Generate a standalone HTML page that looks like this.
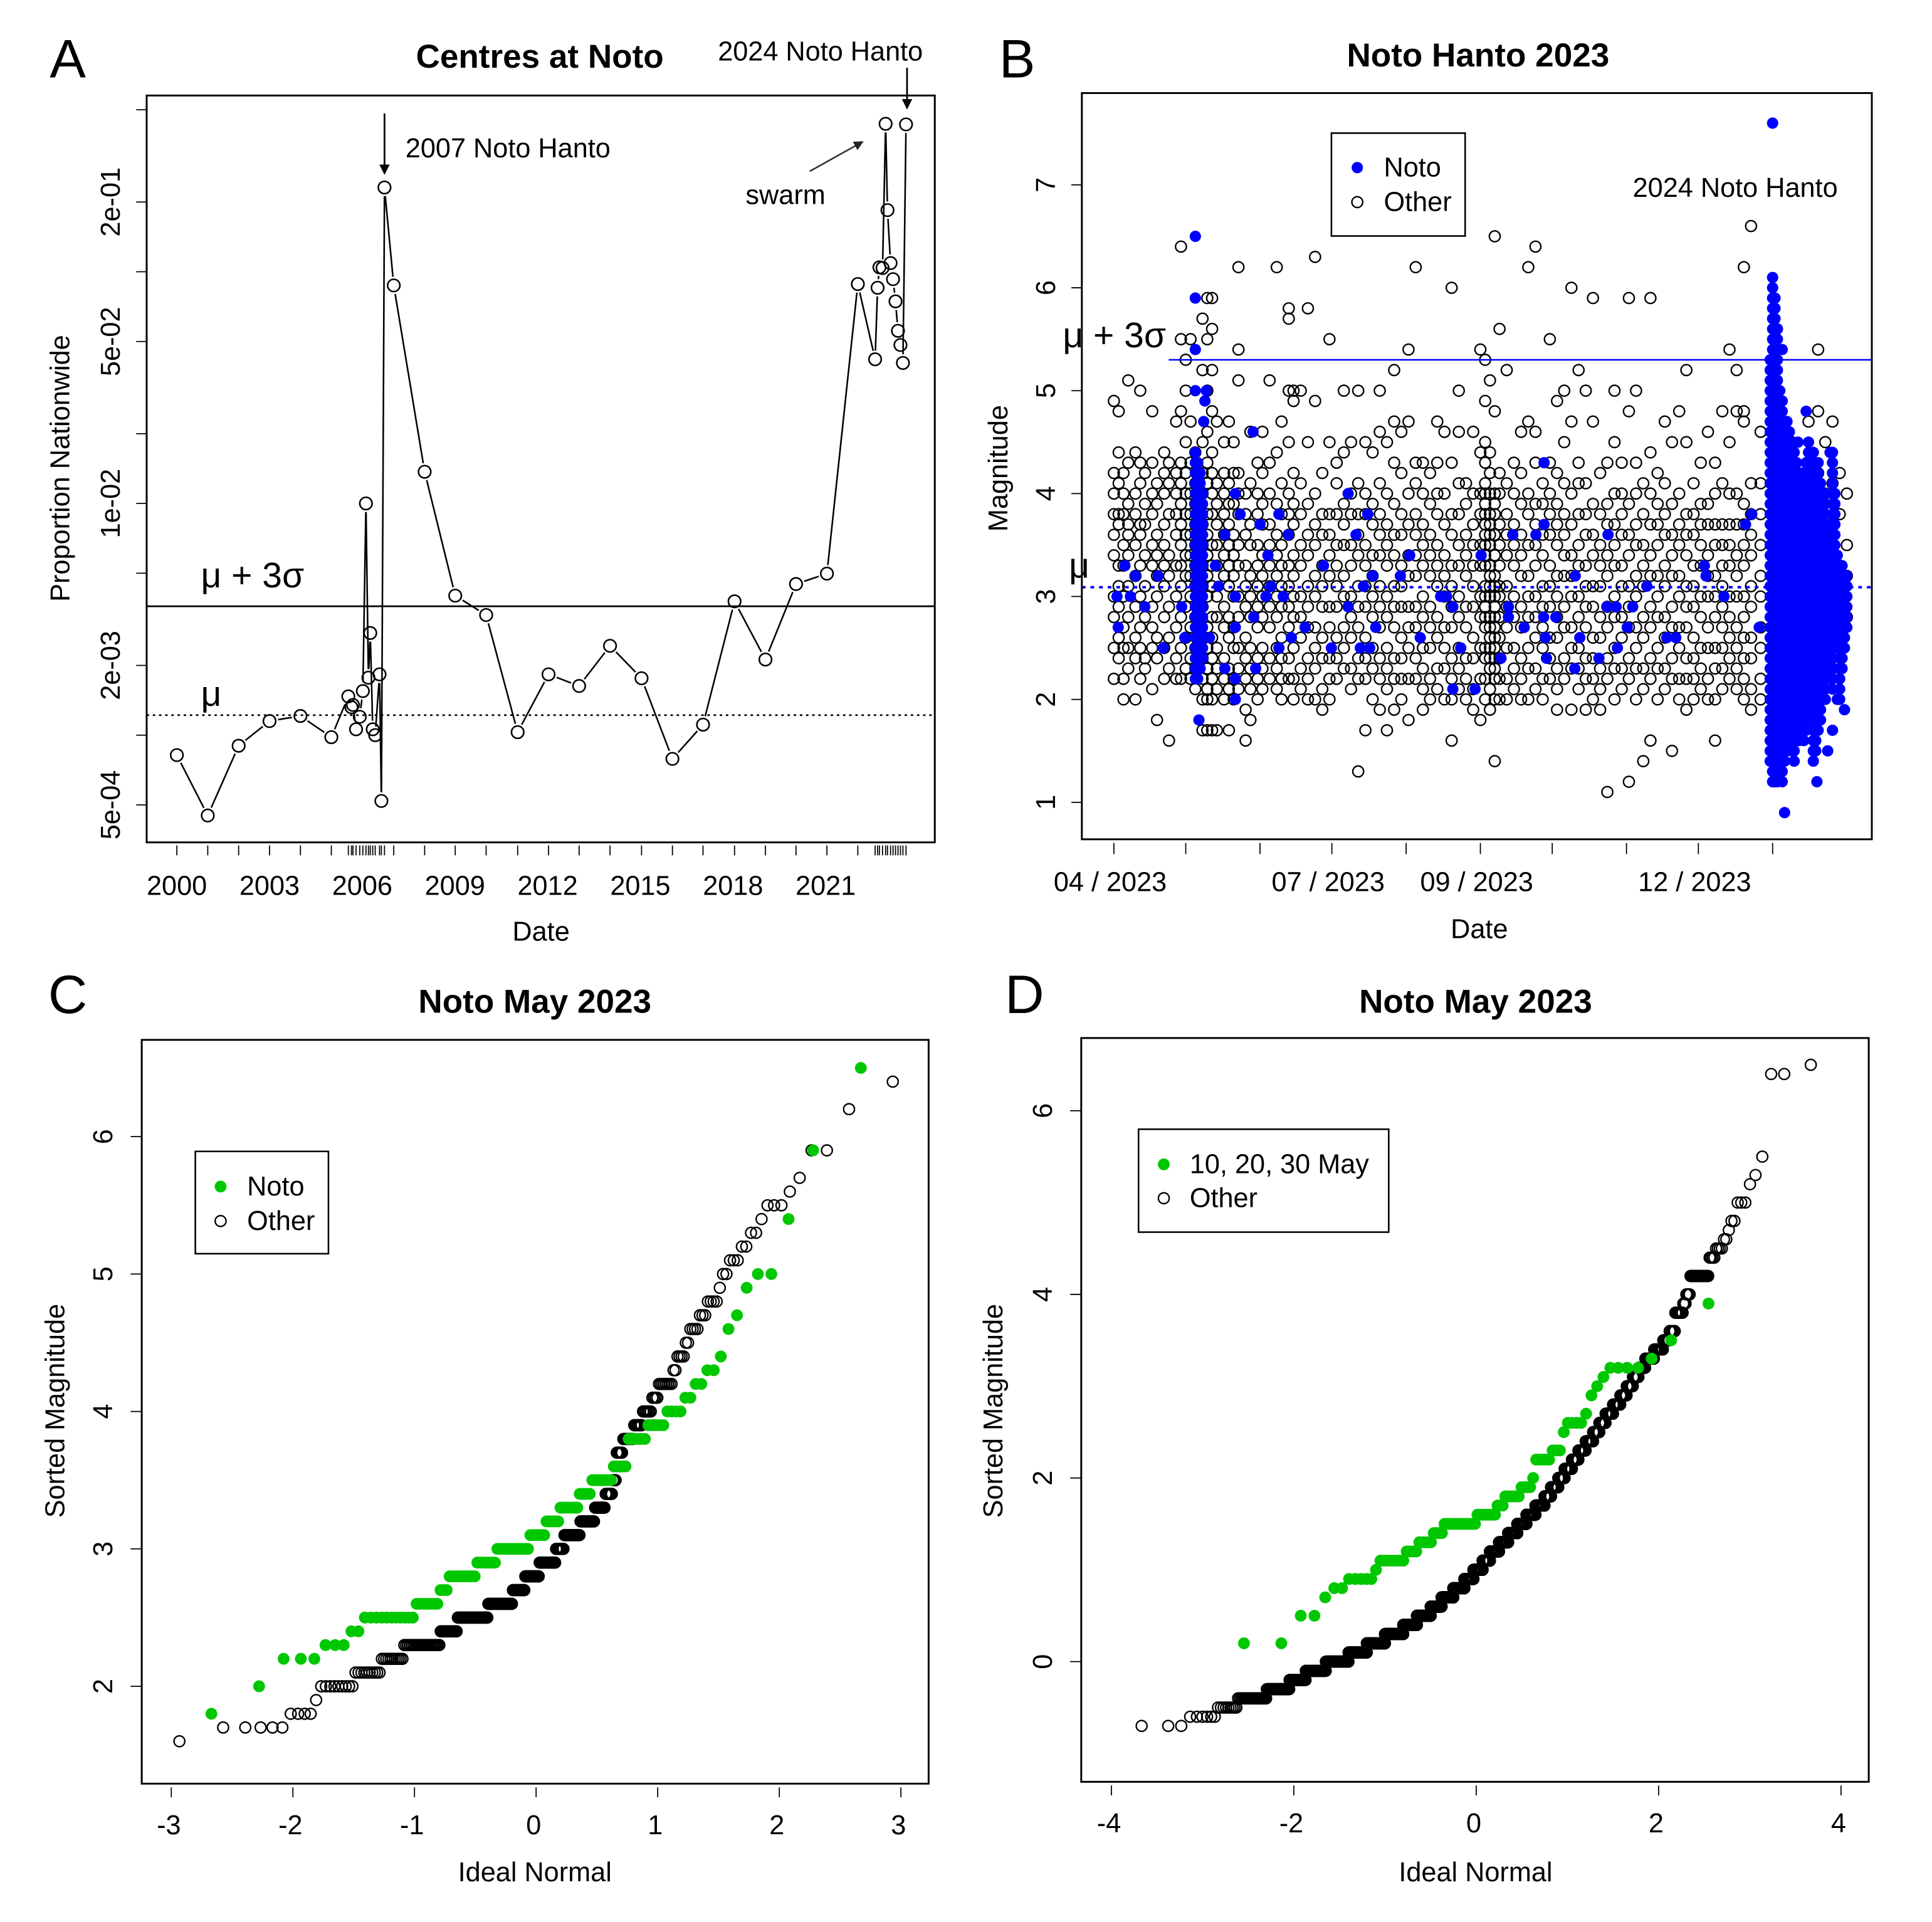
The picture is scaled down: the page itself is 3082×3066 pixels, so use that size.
<!DOCTYPE html>
<html><head><meta charset="utf-8"><title>Noto seismicity figure</title>
<style>
html,body{margin:0;padding:0;background:#fff;}
svg{display:block;font-family:"Liberation Sans",Arial,sans-serif;}
</style></head>
<body>
<svg id="fig" xmlns="http://www.w3.org/2000/svg" width="3082" height="3066" viewBox="0 0 1541 1533">
<defs>
<marker id="ah" viewBox="0 0 10 10" refX="9" refY="5" markerWidth="6" markerHeight="6" orient="auto-start-reverse"><path d="M0,0 L10,5 L0,10 z" fill="#000"/></marker>
<marker id="ahg" viewBox="0 0 10 10" refX="9" refY="5" markerWidth="6" markerHeight="6" orient="auto"><path d="M0,0 L10,5 L0,10 z" fill="#222"/></marker>
</defs>
<rect x="0" y="0" width="1541" height="1533" fill="#fff"/>
</svg>
<script>
// ---------------- Panel A data ----------------
const aDates=[2000.0,2001.0,2002.0,2003.0,2004.0,2005.0,2005.55,2005.65,2005.7,2005.8,2005.92,2006.02,2006.12,2006.2,2006.26,2006.34,2006.42,2006.56,2006.62,2006.72,2007.02,2008.02,2009.01,2010.01,2011.03,2012.03,2013.02,2014.02,2015.04,2016.04,2017.03,2018.05,2019.05,2020.04,2021.04,2022.04,2022.6,2022.68,2022.74,2022.84,2022.94,2023.0,2023.1,2023.18,2023.26,2023.34,2023.42,2023.5,2023.6];
const aProps=[8.2e-4,4.5e-4,9.0e-4,1.15e-3,1.21e-3,9.8e-4,1.47e-3,1.32e-3,1.35e-3,1.06e-3,1.2e-3,1.55e-3,1.0e-2,1.77e-3,2.76e-3,1.06e-3,1.0e-3,1.83e-3,5.2e-4,0.231,0.0873,0.0137,4.0e-3,3.3e-3,1.03e-3,1.83e-3,1.63e-3,2.43e-3,1.76e-3,7.9e-4,1.11e-3,3.78e-3,2.12e-3,4.49e-3,4.98e-3,0.0885,0.0419,0.0853,0.1045,0.1038,0.435,0.1845,0.109,0.0929,0.0745,0.0556,0.0483,0.0404,0.4325];
const aYearLabels=[2000,2003,2006,2009,2012,2015,2018,2021];
const aYTickVals=[5e-4,2e-3,1e-2,5e-2,2e-1];
const aYTickLabels=["5e-04","2e-03","1e-02","5e-02","2e-01"];
const aYMinorVals=[1e-3,5e-3,2e-2,1e-1,5e-1];
const aMuPlus3Sigma=3.6e-3;
const aMu=1.22e-3;

// ---------------- Panel B data ----------------
const bMonthTicks=[0,30,61,91,122,153,183,214,244,275];
const bMonthLabelIdx=[0,3,5,8];
const bMonthLabels=["04 / 2023","07 / 2023","09 / 2023","12 / 2023"];
const bYTicks=[1,2,3,4,5,6,7];
const bMuPlus3Sigma=5.3;
const bMu=3.09;
const bOtherDays=[0,2,4,6,9,11,13,16,18,21,23,26,28,30,32,34,37,39,41,43,46,48,50,52,55,57,60,62,65,68,70,73,75,78,81,84,87,90,93,96,99,102,105,108,111,114,117,120,123,126,129,132,135,138,141,144,147,150,153,155,157,159,161,164,167,170,173,176,179,182,185,188,191,194,197,200,203,206,209,212,215,218,221,224,227,230,233,236,239,242,245,248,251,254,257,260,263,266,270,283,290,294,297,300,303,306];
const bOtherMags=[
"22 25 28 30 34 36 38 40 42 49","24 26 29 31 33 37 38 41 44 48","20 22 25 27 30 33 35 38 40 42","23 25 28 31 34 36 37 39 43 51",
"20 24 26 29 32 35 38 40 44","22 25 27 30 33 36 37 41 43 50","23 24 28 31 34 37 39 42","21 25 27 29 33 35 38 40 43 48",
"18 24 26 30 32 34 36 39 41","22 25 28 31 33 35 37 40 42 44","16 23 26 29 32 34 38 41 43","22 24 27 30 33 36 38 40 42 47",
"22 25 28 31 33 35 37 39 41 43 48 55 64","23 26 29 32 34 36 38 40 42 45 50 53","22 24 27 30 32 34 36 38 40 43 47 55","21 23 25 28 31 33 35 37 39 41 44",
"17 20 22 24 26 29 31 33 35 37 40 42 45 52 57","17 20 21 23 25 27 30 32 34 36 38 41 43 46 50 55 59","17 20 22 24 26 28 31 33 35 38 40 42 44 48 52 56 59","17 21 23 25 28 30 33 35 37 39 41 47",
"20 22 24 27 29 32 34 36 38 40 42 45","17 21 23 26 28 31 33 35 37 39 41 47","20 22 25 27 30 32 34 36 39 42 45","21 23 25 28 30 33 35 38 40 42 51 54 62",
"16 19 22 24 26 29 31 33 36 38 40","18 21 23 25 28 30 32 35 37 41 46","20 22 24 27 29 31 33 35 38 40 43","21 23 25 28 30 32 34 37 39 42 46",
"22 24 27 29 31 33 35 37 40 43 51","21 23 25 28 30 32 34 36 39 44 62","20 22 24 26 29 31 33 35 38 41 47","22 24 27 29 31 33 36 38 40 45 50 57 58",
"20 22 25 28 30 32 34 37 39 42 49 50","21 23 26 28 30 33 35 38 41 50","20 22 24 27 29 31 34 36 39 45 58","20 23 25 27 30 32 35 37 40 49 63",
"19 21 24 26 29 31 33 36 38 42","20 22 24 27 29 32 34 36 38 45 55","22 24 26 29 31 33 35 38 41 43","23 25 27 30 32 35 37 39 44 50",
"21 23 26 28 30 33 35 38 40 45","13 22 24 27 29 31 34 36 38 41 50","17 22 24 26 29 31 33 35 38 40 45","20 23 25 28 30 32 34 37 39 44",
"19 22 24 27 29 31 34 36 38 41 46 50","17 21 23 25 28 30 33 35 37 40 45","19 22 24 27 29 31 34 36 39 43 47 52","20 22 24 26 29 31 33 36 38 42 46",
"18 22 25 27 29 32 34 37 40 47 54","22 24 27 29 32 34 36 38 41 43 62","19 21 23 25 28 30 33 35 37 40 43","20 22 25 27 29 32 34 36 39 42",
"21 23 26 28 31 33 35 38 40 43 47","20 23 25 27 30 32 34 37 40 46","16 20 22 24 27 29 31 33 36 38 43 60","21 23 25 28 30 33 35 38 41 46 50",
"20 22 24 27 29 32 34 36 39 41","19 21 24 26 29 31 33 35 37 40 46","18 22 25 28 30 33 35 38 40 44 54","20 22 24 25 27 28 29 30 31 33 34 35 36 37 38 39 40 41 43 45 49 53",
"19 21 23 24 25 26 27 28 30 31 32 33 35 36 37 38 40 42 44 51","14 20 22 23 24 25 26 27 28 29 30 31 32 34 36 38 39 40 48 65","20 22 24 26 28 30 31 33 35 37 40 42 56","20 22 25 27 29 31 34 36 38 41 52",
"21 23 25 28 30 33 35 37 40 43","20 22 24 27 29 32 34 36 39 42 46","20 23 25 28 30 32 35 38 40 47 62","21 23 26 28 30 33 35 37 39 43 46 64",
"20 22 25 27 29 31 34 36 39 41","22 24 26 29 31 33 36 38 40 43 55","19 21 23 26 28 30 32 35 37 39 42 49","22 24 27 29 32 34 36 38 41 45 50",
"19 23 25 27 30 32 34 37 40 47 60","21 23 25 28 30 33 35 38 41 43 52","19 22 24 27 29 31 33 36 38 41 50","20 22 24 26 29 31 34 36 39 47 59",
"19 21 23 26 28 31 33 35 38 42","11 22 24 27 29 32 34 37 39 43","20 23 25 28 30 33 35 37 40 45 50","21 23 26 28 31 33 36 38 40 43",
"12 22 24 27 29 31 34 36 39 48 59","20 23 25 27 30 32 35 37 40 43 50","14 21 23 26 28 31 33 35 38 41","16 22 24 27 29 32 34 37 40 44 59",
"20 23 25 28 30 32 35 37 39 42","21 23 26 28 31 33 36 38 41 47","15 22 24 27 29 32 34 36 39 45","20 22 25 27 30 32 35 37 40 48",
"19 22 24 27 29 31 34 36 38 45 52","20 22 24 26 29 31 33 36 38 41","21 23 25 28 30 33 35 37 39 43","20 22 25 27 30 32 34 37 39 46",
"16 20 23 25 28 30 32 35 37 40 43","21 23 25 27 29 31 33 35 37 41 48","22 24 26 28 30 33 35 37 40 45 54","21 23 25 27 30 32 34 37 40 48 52",
"20 22 24 26 28 30 33 35 37 39 47 48 62","19 21 24 26 29 31 34 36 38 41 66","20 22 25 27 30 32 35 38 41 46","30 33 37 40 45",
"24 27 30 34 38 41 47","23 26 29 33 36 39 42 48 54","24 28 31 35 40 45","23 27 30 34 37 41 47","26 29 33 38 42","28 32 35 40"];
const bNotoDays=[1.3,1.8,4.6,6.9,9,12.9,18.5,20.6,28.3,29.6,34,34,34,34,38.6,38,37.5,35.5,39.9,42.4,43.7,46.3,46.3,50.7,50.7,50.7,50.7,50.7,52.7,58.1,58.4,59.2,61,63.5,64.3,65.6,68.9,68.9,70.7,72.8,74.1,79.8,87.5,90.8,97.8,97.8,101.1,102.9,104.2,106,106.8,108,109.3,119.6,123.5,127.9,136.4,138.9,141.5,141.5,144.8,150.8,153.3,161.6,164.7,164.7,166.5,171.3,176.2,179.6,179.6,179.4,180.1,180.6,184.5,192.4,192.6,194.5,202.5,205.8,206.3,209.7,210.2,214.3,216.6,222.5,230.8,234.6,246.5,247.2,254.7,263.7,266.3,269.4,275,280,279,277,289,293.5,298,300,302,305,299,285.6];
const bNotoMags=[3.0,2.7,3.3,3.0,3.2,2.9,3.2,2.5,2.9,2.6,6.5,5.9,5.4,5.0,5.0,4.9,4.7,1.8,2.6,3.3,3.1,3.6,2.3,4.0,3.0,2.7,2.2,2.0,3.8,4.6,2.8,2.3,3.7,3.0,3.4,3.1,3.8,2.5,3.0,3.6,2.6,2.7,3.3,2.5,4.0,2.9,3.6,2.5,3.1,3.8,2.5,3.2,2.7,3.2,3.4,2.6,3.0,3.0,2.9,2.1,2.5,2.1,3.4,2.4,2.9,2.8,3.6,2.7,3.6,4.3,3.7,2.8,2.6,2.4,2.8,2.3,3.2,2.6,2.4,2.9,3.6,2.9,2.5,2.7,2.9,3.1,2.6,2.6,3.3,3.2,3.0,3.7,3.8,2.7,7.6,0.9,5.4,5.6,4.8,1.2,1.5,1.7,2.0,1.9,4.4,4.5];
// dense Noto swarm columns: day, lowest and highest magnitude present (every 0.1 step occupied)
const bSwarmDays=[34,35,36,37,274,275,276,277,278,279,280,281,282,283,284,285,286,287,288,289,290,291,292,293,294,295,296,297,298,299,300,301,302,303,304,305,306];
const bSwarmMin=[2.2,2.2,2.3,2.4,1.4,1.2,1.2,1.2,1.3,1.2,1.4,1.5,1.6,1.5,1.4,1.6,1.6,1.7,1.6,1.7,1.8,1.8,1.4,1.5,1.7,1.8,2.0,2.0,2.2,2.5,2.1,2.6,2.5,2.0,2.3,2.5,2.7];
const bSwarmMax=[4.4,4.3,4.2,4.0,5.3,6.1,5.9,5.6,5.0,4.9,4.7,4.7,4.6,4.5,4.4,4.3,4.2,4.2,4.1,4.3,4.5,4.2,4.4,4.0,4.3,4.1,3.8,4.0,3.7,3.5,4.4,4.0,3.4,3.3,3.3,3.2,3.2];

// ---------------- Panel C data (magnitude levels and counts) ----------------
const cNotoMags=[1.8,2.0,2.2,2.3,2.4,2.5,2.6,2.7,2.8,2.9,3.0,3.1,3.2,3.3,3.4,3.5,3.6,3.8,3.9,4.0,4.1,4.2,4.3,4.4,4.6,4.7,4.9,5.0,5.4,5.9,6.5];
const cNotoCounts=[1,1,3,3,2,11,7,3,10,8,14,7,6,8,5,8,5,6,5,4,2,2,2,1,1,1,1,2,1,1,1];
const cOtherMags=[1.6,1.7,1.8,1.9,2.0,2.1,2.2,2.3,2.4,2.5,2.6,2.7,2.8,2.9,3.0,3.1,3.2,3.3,3.4,3.5,3.7,3.8,3.9,4.0,4.1,4.2,4.3,4.4,4.5,4.6,4.7,4.8,4.9,5.0,5.1,5.2,5.3,5.4,5.5,5.6,5.7,5.9,6.2,6.4];
const cOtherCounts=[1,5,4,1,9,10,11,23,13,26,23,12,14,16,8,15,13,9,6,3,5,8,6,6,4,8,2,4,2,4,3,4,1,2,3,2,2,1,3,1,1,2,1,1];
const cXTicks=[-3,-2,-1,0,1,2,3];
const cYTicks=[2,3,4,5,6];

// ---------------- Panel D data ----------------
const dNotoMags=[0.2,0.5,0.7,0.8,0.9,1.0,1.1,1.2,1.3,1.4,1.5,1.6,1.7,1.8,1.9,2.0,2.2,2.3,2.5,2.6,2.7,2.9,3.0,3.1,3.2,3.3,3.5,3.9];
const dNotoCounts=[2,2,1,2,5,1,7,4,5,4,13,8,3,6,4,1,5,3,1,4,1,1,1,1,4,1,1,1];
const dOtherMags=[-0.7,-0.6,-0.5,-0.4,-0.3,-0.2,-0.1,0.0,0.1,0.2,0.3,0.4,0.5,0.6,0.7,0.8,0.9,1.0,1.1,1.2,1.3,1.4,1.5,1.6,1.7,1.8,1.9,2.0,2.1,2.2,2.3,2.4,2.5,2.6,2.7,2.8,2.9,3.0,3.1,3.2,3.3,3.4,3.5,3.6,3.8,3.9,4.0,4.2,4.4,4.5,4.6,4.7,4.8,5.0,5.2,5.3,5.5,6.4,6.5];
const dOtherCounts=[3,6,9,26,39,43,77,128,141,178,218,189,209,177,200,195,162,164,131,160,156,151,145,135,127,86,90,74,78,65,66,62,47,43,46,40,31,27,22,23,26,22,13,10,12,4,5,17,4,4,2,1,2,3,1,1,1,2,1];
const dXTicks=[-4,-2,0,2,4];
const dYTicks=[0,2,4,6];

// ---------------- helpers ----------------
const NS='http://www.w3.org/2000/svg';
const svg=document.getElementById('fig');
const FONT='"Liberation Sans", Arial, sans-serif';
const SC=0.983;
function mk(tag,attrs,parent){const e=document.createElementNS(NS,tag);for(const k in attrs)e.setAttribute(k,attrs[k]);(parent||svg).appendChild(e);return e;}
function group(ox,oy){return mk('g',{transform:'translate('+ox+' '+oy+') scale('+SC+') translate('+(-ox)+' '+(-oy)+')'});}
function text(s,x,y,size,extra,parent){const o=Object.assign({x:x,y:y,'font-size':size,'font-family':FONT,'text-anchor':'middle','dominant-baseline':'central',fill:'#000'},extra||{});const e=mk('text',o,parent);e.textContent=s;return e;}
function qnorm(p){const a=[-3.969683028665376e+01,2.209460984245205e+02,-2.759285104469687e+02,1.383577518672690e+02,-3.066479806614716e+01,2.506628277459239e+00];const b=[-5.447609879822406e+01,1.615858368580409e+02,-1.556989798598866e+02,6.680131188771972e+01,-1.328068155288572e+01];const c=[-7.784894002430293e-03,-3.223964580411365e-01,-2.400758277161838e+00,-2.549732539343734e+00,4.374664141464968e+00,2.938163982698783e+00];const d=[7.784695709041462e-03,3.224671290700398e-01,2.445134137142996e+00,3.754408661907416e+00];const pl=0.02425;let q,r;if(p<pl){q=Math.sqrt(-2*Math.log(p));return (((((c[0]*q+c[1])*q+c[2])*q+c[3])*q+c[4])*q+c[5])/((((d[0]*q+d[1])*q+d[2])*q+d[3])*q+1);}if(p>1-pl){q=Math.sqrt(-2*Math.log(1-p));return -(((((c[0]*q+c[1])*q+c[2])*q+c[3])*q+c[4])*q+c[5])/((((d[0]*q+d[1])*q+d[2])*q+d[3])*q+1);}q=p-0.5;r=q*q;return (((((a[0]*r+a[1])*r+a[2])*r+a[3])*r+a[4])*r+a[5])*q/(((((b[0]*r+b[1])*r+b[2])*r+b[3])*r+b[4])*r+1);}

// ================= PANEL A =================
(function(){
const g=group(0,0);


const L=119,R=758.5,T=77.5,B=683.5;
const xA=t=>143.5+(t-2000)*25.07;
const yA=v=>408.5-(Math.log10(v)+2)*188;
let e;
e=text('A',55,48,44,{},g);


e=text('Centres at Noto',438,46,27,{'font-weight':'bold'},g);


e=mk('line',{x1:L,x2:R,y1:yA(aMuPlus3Sigma),y2:yA(aMuPlus3Sigma),stroke:'#000','stroke-width':1.4},g);


e=mk('line',{x1:L,x2:R,y1:yA(aMu),y2:yA(aMu),stroke:'#000','stroke-width':1.3,'stroke-dasharray':'2 3'},g);


e=text('μ + 3σ',163,467,29,{'text-anchor':'start'},g);


e=text('μ',163,563,29,{'text-anchor':'start'},g);


const r=5,gap=2;
for(let i=0;i<aDates.length-1;i++){
 const x1=xA(aDates[i]),y1=yA(aProps[i]),x2=xA(aDates[i+1]),y2=yA(aProps[i+1]);
 const dx=x2-x1,dy=y2-y1,len=Math.hypot(dx,dy);
 const cut=r+gap; if(len<=2*cut+1) continue;
 const ux=dx/len,uy=dy/len;
 e=mk('line',{x1:x1+ux*cut,y1:y1+uy*cut,x2:x2-ux*cut,y2:y2-uy*cut,stroke:'#000','stroke-width':1.3},g);
 
 
}
for(let i=0;i<aDates.length;i++){
 e=mk('circle',{cx:xA(aDates[i]),cy:yA(aProps[i]),r:r,fill:'none',stroke:'#000','stroke-width':1.3},g);
 
 
}
e=mk('rect',{x:L,y:T,width:R-L,height:B-T,fill:'none',stroke:'#000','stroke-width':1.5},g);


for(const t of aDates){
 e=mk('line',{x1:xA(t),x2:xA(t),y1:686,y2:694,stroke:'#000','stroke-width':0.9},g);
 
 
}
for(const yr of aYearLabels){
 e=text(String(yr),xA(yr),719,22,{},g);
 
 
}
for(let i=0;i<aYTickVals.length;i++){
 const y=yA(aYTickVals[i]);
 e=mk('line',{x1:110.5,x2:119,y1:y,y2:y,stroke:'#000','stroke-width':0.9},g);
 
 
 e=text(aYTickLabels[i],90,y,22,{transform:'rotate(-90 90 '+y+')'},g);
 
 
}
for(const v of aYMinorVals){
 const y=yA(v);
 e=mk('line',{x1:110.5,x2:119,y1:y,y2:y,stroke:'#000','stroke-width':0.9},g);
 
 
}
e=text('Date',439,756,22,{},g);


e=text('Proportion Nationwide',49,380,22,{transform:'rotate(-90 49 380)'},g);


e=mk('line',{x1:312,y1:92,x2:312,y2:141,stroke:'#000','stroke-width':1.4,'marker-end':'url(#ah)'},g);


e=text('2007 Noto Hanto',329,120.5,22,{'text-anchor':'start'},g);


e=mk('line',{x1:736,y1:55,x2:736,y2:88,stroke:'#000','stroke-width':1.4,'marker-end':'url(#ah)'},g);


e=text('2024 Noto Hanto',582.5,42,22,{'text-anchor':'start'},g);


e=mk('line',{x1:657,y1:139,x2:700,y2:115,stroke:'#333','stroke-width':1.3,'marker-end':'url(#ahg)'},g);


e=text('swarm',605,158.5,22,{'text-anchor':'start'},g);


})();

// ================= PANEL B =================
(function(){
const g=group(770.5,0);


const L=864.5,R=1505.5,T=75.5,B=681;
const xB=d=>890.5+d*1.9436;
const yB=m=>651-(m-1)*83.5;
let e;
e=text('B',812,48,44,{},g);


e=text('Noto Hanto 2023',1186,45,27,{'font-weight':'bold'},g);


for(let i=0;i<bOtherDays.length;i++){
 const mags=bOtherMags[i].split(' ').map(s=>parseInt(s,10)/10);
 for(const m of mags){
  e=mk('circle',{cx:xB(bOtherDays[i]),cy:yB(m),r:4.4,fill:'none',stroke:'#000','stroke-width':1.2},g);
  
  
 }
}
for(let i=0;i<bSwarmDays.length;i++){
 for(let k=Math.round(bSwarmMin[i]*10);k<=Math.round(bSwarmMax[i]*10);k++){
  e=mk('circle',{cx:xB(bSwarmDays[i]),cy:yB(k/10),r:4.6,fill:'#0000ff'},g);
  
  
 }
}
for(let i=0;i<bNotoDays.length;i++){
 e=mk('circle',{cx:xB(bNotoDays[i]),cy:yB(bNotoMags[i]),r:4.6,fill:'#0000ff'},g);
 
 
}
e=mk('line',{x1:935,x2:R,y1:yB(bMuPlus3Sigma),y2:yB(bMuPlus3Sigma),stroke:'#0000ff','stroke-width':1.3},g);


e=mk('line',{x1:L,x2:R,y1:yB(bMu),y2:yB(bMu),stroke:'#0000ff','stroke-width':2,'stroke-dasharray':'3 4'},g);


e=text('μ + 3σ',849,272,29,{'text-anchor':'start'},g);


e=text('μ',854,459,29,{'text-anchor':'start'},g);


e=mk('rect',{x:1067,y:108,width:108.5,height:83.5,fill:'#fff',stroke:'#000','stroke-width':1.3},g);


e=mk('circle',{cx:1088,cy:136,r:4.6,fill:'#0000ff'},g);


e=text('Noto',1109.5,136,22,{'text-anchor':'start'},g);


e=mk('circle',{cx:1088,cy:164,r:4.4,fill:'none',stroke:'#000','stroke-width':1.2},g);


e=text('Other',1109.5,164,22,{'text-anchor':'start'},g);


e=text('2024 Noto Hanto',1311.5,152.5,22,{'text-anchor':'start'},g);


e=mk('rect',{x:L,y:T,width:R-L,height:B-T,fill:'none',stroke:'#000','stroke-width':1.5},g);


for(const d of bMonthTicks){
 e=mk('line',{x1:xB(d),x2:xB(d),y1:684,y2:693,stroke:'#000','stroke-width':0.9},g);
 
 
}
for(let i=0;i<bMonthLabels.length;i++){
 e=text(bMonthLabels[i],xB(bMonthTicks[bMonthLabelIdx[i]])-3,716,22,{},g);
 
 
}
for(const m of bYTicks){
 const y=yB(m);
 e=mk('line',{x1:856,x2:864.5,y1:y,y2:y,stroke:'#000','stroke-width':0.9},g);
 
 
 e=text(String(m),835.5,y,22,{transform:'rotate(-90 835.5 '+y+')'},g);
 
 
}
e=text('Date',1187,754,22,{},g);


e=text('Magnitude',797,380,22,{transform:'rotate(-90 797 380)'},g);


})();

// ================= QQ PANELS =================
function expand(mags,counts){const out=[];for(let i=0;i<mags.length;i++)for(let k=0;k<counts[i];k++)out.push(mags[i]);return out;}
function qqPanel(cfg){
 const g=group(cfg.ox,cfg.oy);
 
 
 let e;
 e=text(cfg.letter,cfg.letterX,794,44,{},g);
 
 
 e=text('Noto May 2023',cfg.titleX,799.5,27,{'font-weight':'bold'},g);
 
 
 const other=expand(cfg.otherMags,cfg.otherCounts);
 const noto=expand(cfg.notoMags,cfg.notoCounts);
 const n1=other.length,n2=noto.length;
 for(let i=0;i<n1;i++){
  const q=qnorm((i+0.5)/n1);
  e=mk('circle',{cx:cfg.x(q),cy:cfg.y(other[i]),r:4.4,fill:'none',stroke:'#000','stroke-width':1.2},g);
  
  
 }
 for(let i=0;i<n2;i++){
  const q=qnorm((i+0.5)/n2);
  e=mk('circle',{cx:cfg.x(q),cy:cfg.y(noto[i]),r:4.8,fill:'#00c800'},g);
  
  
 }
 e=mk('rect',{x:cfg.L,y:cfg.T,width:cfg.R-cfg.L,height:cfg.B-cfg.T,fill:'none',stroke:'#000','stroke-width':1.5},g);
 
 
 const lg=cfg.legend;
 e=mk('rect',{x:lg.x,y:lg.y,width:lg.w,height:lg.h,fill:'#fff',stroke:'#000','stroke-width':1.3},g);
 
 
 e=mk('circle',{cx:lg.sx,cy:lg.y1,r:4.8,fill:'#00c800'},g);
 
 
 e=text(lg.label1,lg.tx,lg.y1,22,{'text-anchor':'start'},g);
 
 
 e=mk('circle',{cx:lg.sx,cy:lg.y2,r:4.4,fill:'none',stroke:'#000','stroke-width':1.2},g);
 
 
 e=text('Other',lg.tx,lg.y2,22,{'text-anchor':'start'},g);
 
 
 for(const t of cfg.xTicks){
  e=mk('line',{x1:cfg.x(t),x2:cfg.x(t),y1:cfg.B+3,y2:cfg.B+11,stroke:'#000','stroke-width':0.9},g);
  
  
  e=text(String(t),cfg.x(t)-2,cfg.B+34,22,{},g);
  
  
 }
 for(const t of cfg.yTicks){
  const y=cfg.y(t);
  e=mk('line',{x1:cfg.L-9,x2:cfg.L,y1:y,y2:y,stroke:'#000','stroke-width':0.9},g);
  
  
  e=text(String(t),cfg.ytlX,y,22,{transform:'rotate(-90 '+cfg.ytlX+' '+y+')'},g);
  
  
 }
 e=text('Ideal Normal',cfg.titleX,1506,22,{},g);
 
 
 e=text('Sorted Magnitude',cfg.ylabX,1131.5,22,{transform:'rotate(-90 '+cfg.ylabX+' 1131.5)'},g);
 
 
}
qqPanel({name:'panel-c',ox:0,oy:766.5,letter:'C',letterX:55,titleX:434,L:115,R:753.5,T:830.5,B:1434,
 x:q=>435+q*98.67,y:m=>1355-(m-2)*111.5,
 otherMags:cOtherMags,otherCounts:cOtherCounts,notoMags:cNotoMags,notoCounts:cNotoCounts,
 xTicks:cXTicks,yTicks:cYTicks,ytlX:84,ylabX:45,
 legend:{x:158.5,y:921,w:108,h:83,sx:179,tx:200.5,y1:949.5,y2:977.5,label1:'Noto'}});
qqPanel({name:'panel-d',ox:770.5,oy:766.5,letter:'D',letterX:818,titleX:1184,L:864,R:1503,T:829,B:1432.5,
 x:q=>1184.5+q*74,y:m=>1335-m*74.5,
 otherMags:dOtherMags,otherCounts:dOtherCounts,notoMags:dNotoMags,notoCounts:dNotoCounts,
 xTicks:dXTicks,yTicks:dYTicks,ytlX:833,ylabX:793,
 legend:{x:910.5,y:903,w:203,h:83.5,sx:931,tx:952,y1:931.5,y2:959,label1:'10, 20, 30 May'}});
</script>
</body></html>
